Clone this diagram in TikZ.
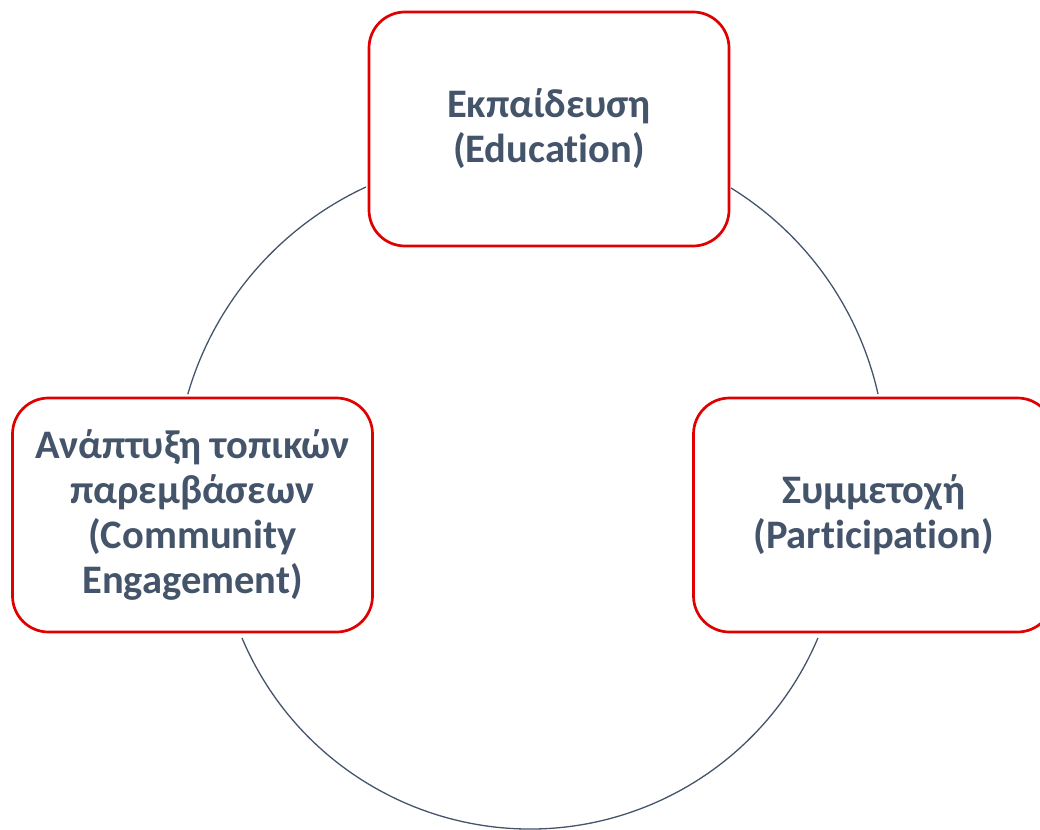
\documentclass[tikz,border=0pt]{standalone}
\usepackage{fontspec}
\setmainfont{Carlito}[Ligatures=NoCommon]
\definecolor{txt}{HTML}{44546A}
\definecolor{bred}{HTML}{E00000}
\begin{document}
\begin{tikzpicture}[x=1pt,y=1pt,
  box/.style={draw=bred, line width=2.7pt, rounded corners=36pt,
    minimum width=360pt, minimum height=234pt, align=center, text=txt,
    font=\bfseries\fontsize{40.5}{45}\selectfont, inner sep=0pt, fill=white},
  arcline/.style={draw=txt, line width=1.3pt}]
\useasboundingbox (0,0) rectangle (1040,-829);
% arcs between the boxes
\coordinate (a1) at (366,-187);
\coordinate (a2) at (731,-188);
\coordinate (a3) at (242,-638);
\draw[arcline] (a1) arc[start angle=114.8, end angle=163.8, radius=329.5];
\draw[arcline] (a2) arc[start angle=58.33, end angle=12.69, radius=326.3];
\draw[arcline] (a3) arc[start angle=202.9, end angle=337.1, radius=312.6];
% boxes
\node[box] (edu) at (549,-129) {Εκπαίδευση\\(Education)};
\node[box] (eng) at (192.5,-515) {Ανάπτυξη τοπικών\\παρεμβάσεων\\(Community\\Engagement)};
\node[box] (par) at (873.5,-515) {Συμμετοχή\\(Participation)};
\end{tikzpicture}
\end{document}
